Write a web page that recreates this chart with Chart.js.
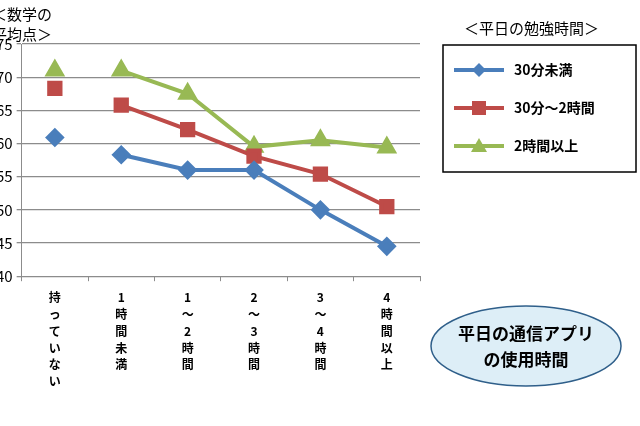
<!DOCTYPE html>
<html><head><meta charset="utf-8">
<script src="https://cdn.jsdelivr.net/npm/chart.js@4/dist/chart.umd.min.js"></script>
<style>body{margin:0;background:#fff;overflow:hidden}#wrap{position:relative;width:640px;height:426px;left:-8px}</style>
</head><body><div id="wrap"><canvas id="c" width="648" height="426"></canvas></div>
<script>
const categories = [
  ['持','っ','て','い','な','い'],
  ['1','時','間','未','満'],
  ['1','～','2','時','間'],
  ['2','～','3','時','間'],
  ['3','～','4','時','間'],
  ['4','時','間','以','上']
];
const under30 = [60.9, 58.3, 56.0, 56.0, 50.0, 44.5];
const to2h = [68.3, 65.8, 62.1, 58.1, 55.4, 50.5];
const over2h = [71.0, 71.0, 67.5, 59.5, 60.5, 59.4];
const seriesNames = ['30分未満', '30分～2時間', '2時間以上'];
const yTicks = [40, 45, 50, 55, 60, 65, 70, 75];

const font = '"Noto Sans CJK JP", sans-serif';
const hideFirst = c => ctx => ctx.p0DataIndex === 0 ? 'transparent' : c;
function ds(label, data, color, style, r) {
  return { label, data, borderColor: color, backgroundColor: color, borderWidth: 4,
    pointStyle: style, pointRadius: r, pointHoverRadius: r, tension: 0,
    segment: { borderColor: hideFirst(color) } };
}

const extras = {
  id: 'extras',
  afterDraw(chart) {
    const g = chart.ctx;
    g.save();
    g.fillStyle = '#000';
    g.font = '15px ' + font;
    g.textBaseline = 'middle';
    g.fillText('＜数学の', 0, 14);
    g.fillText('平均点＞', 0, 34);
    g.fillText('＜平日の勉強時間＞', 472, 28);
    g.strokeStyle = '#000'; g.lineWidth = 1.5;
    g.strokeRect(451, 45, 193, 127);
    chart.data.datasets.forEach((d, i) => {
      const y = 70 + i * 38;
      g.strokeStyle = d.borderColor; g.lineWidth = 4;
      g.beginPath(); g.moveTo(462, y); g.lineTo(512, y); g.stroke();
      g.fillStyle = d.borderColor;
      g.beginPath();
      if (i === 0) { g.moveTo(487, y - 7); g.lineTo(494, y); g.lineTo(487, y + 7); g.lineTo(480, y); }
      else if (i === 1) { g.rect(480, y - 7, 14, 14); }
      else { g.moveTo(487, y - 8); g.lineTo(495, y + 6); g.lineTo(479, y + 6); }
      g.fill();
      g.fillStyle = '#000'; g.font = 'bold 14px ' + font;
      g.fillText(d.label, 522, y);
    });
    g.beginPath();
    g.ellipse(534, 346, 95, 40, 0, 0, Math.PI * 2);
    g.fillStyle = '#ddeef7'; g.fill();
    g.strokeStyle = '#2f5f8a'; g.lineWidth = 1.5; g.stroke();
    g.fillStyle = '#000'; g.font = 'bold 17px ' + font; g.textAlign = 'center';
    g.fillText('平日の通信アプリ', 534, 334);
    g.fillText('の使用時間', 534, 360);
    g.restore();
  }
};

new Chart(document.getElementById('c'), {
  type: 'line',
  data: { labels: categories, datasets: [
    ds(seriesNames[0], under30, '#4a7ebb', 'rectRot', 7),
    ds(seriesNames[1], to2h, '#be4b48', 'rect', 8),
    ds(seriesNames[2], over2h, '#98b954', 'triangle', 8)
  ]},
  options: {
    responsive: false, animation: false,
    layout: { padding: { left: 0, right: 220, top: 44, bottom: 28 } },
    plugins: { legend: { display: false }, tooltip: { enabled: false } },
    scales: {
      y: { min: 40, max: 75, afterBuildTicks: a => { a.ticks = yTicks.map(v => ({ value: v })); },
        grid: { color: '#8c8c8c', lineWidth: 1.3, drawTicks: true, tickLength: 5 },
        border: { color: '#8c8c8c' },
        ticks: { color: '#000', font: { size: 15, family: font }, padding: 4 } },
      x: { offset: true, grid: { display: true, drawOnChartArea: false, drawTicks: true, tickLength: 5, color: '#8c8c8c', offset: true }, border: { color: '#8c8c8c' },
        ticks: { color: '#000', font: { size: 12, family: font, weight: 'bold', lineHeight: 1.4 }, maxRotation: 0, autoSkip: false, padding: 8 } }
    }
  },
  plugins: [extras]
});
</script></body></html>
